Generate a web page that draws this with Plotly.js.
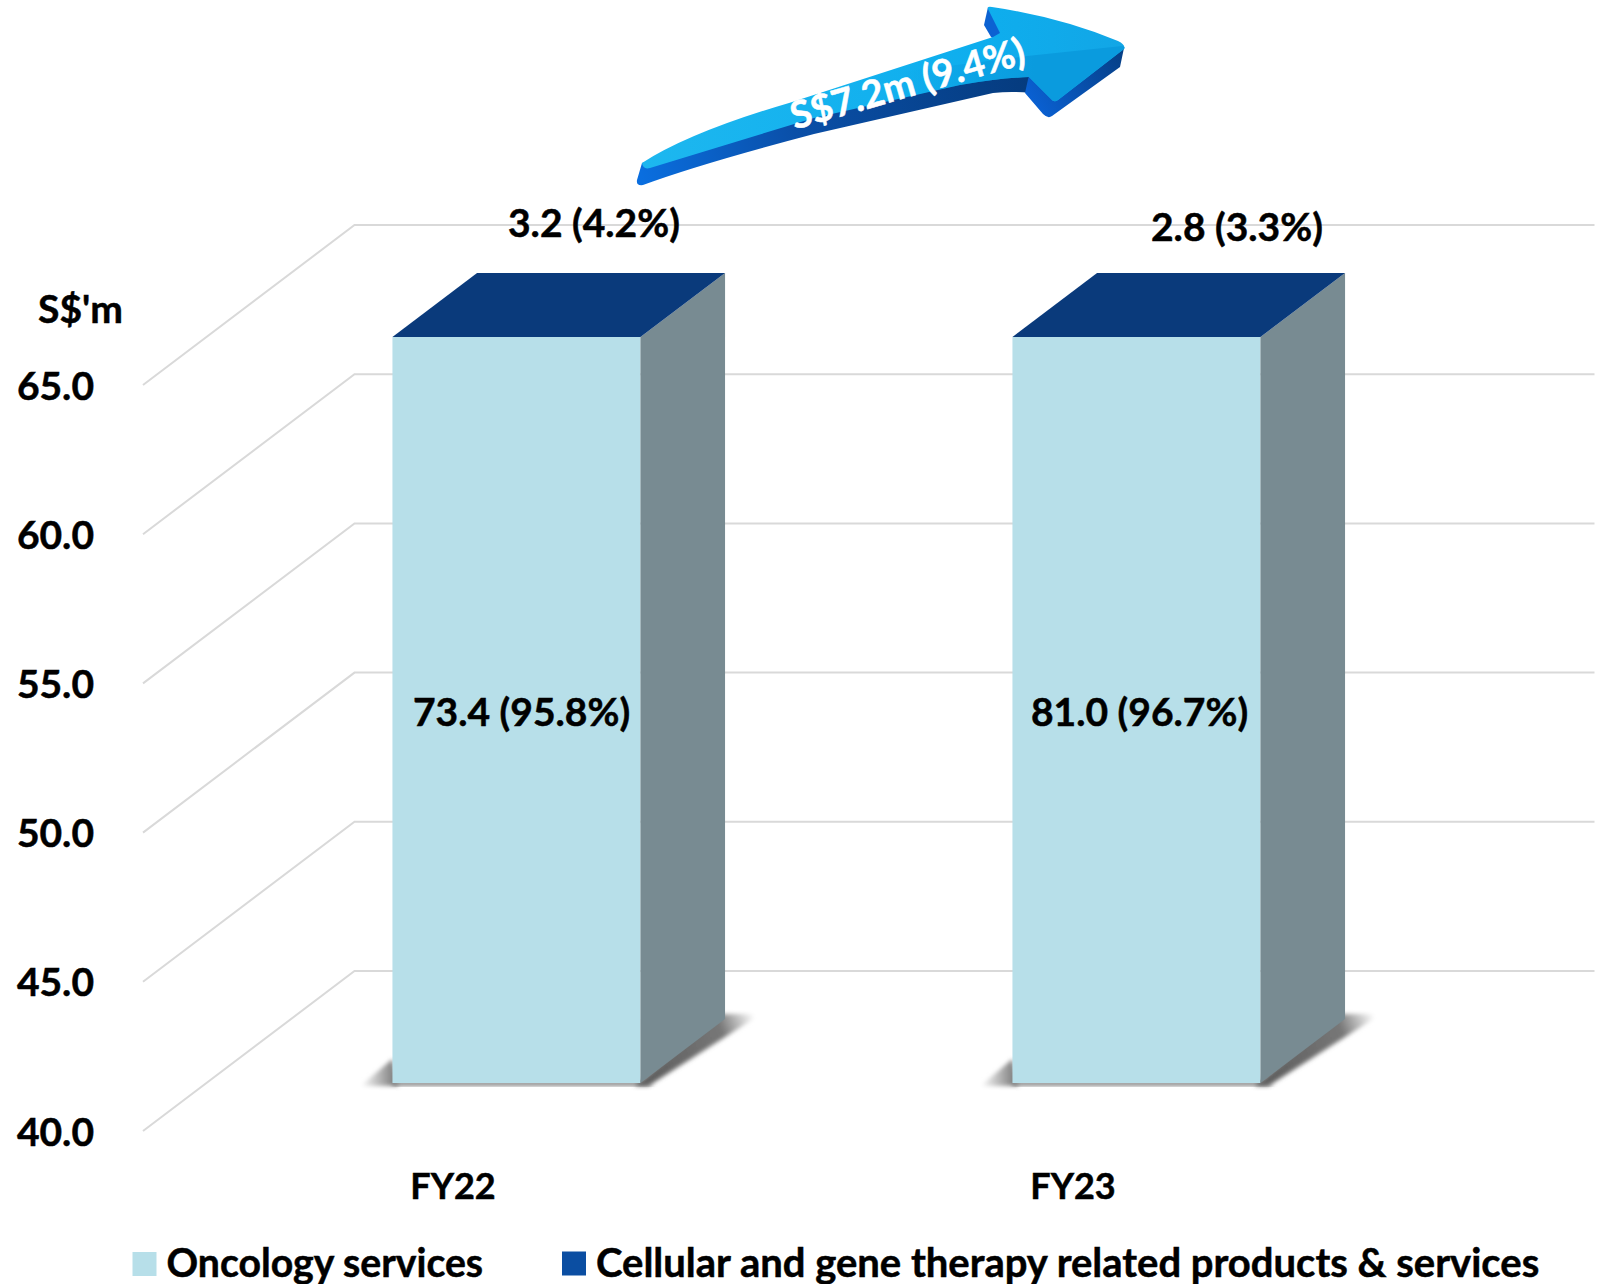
<!DOCTYPE html>
<html>
<head>
<meta charset="utf-8">
<script src="https://cdn.plot.ly/plotly-3.0.1.min.js"></script>
<style>html,body{margin:0;padding:0;background:#fff}</style>
</head>
<body>
<div id="chart" style="width:1608px;height:1284px"></div>
<script>
// Revenue by segment, S$ million
const categories = ["FY22", "FY23"];
const oncology = [73.4, 81.0];
const oncologyShare = [95.8, 96.7];
const cellular = [3.2, 2.8];
const cellularShare = [4.2, 3.3];
const axisTicks = [40, 45, 50, 55, 60, 65];
const growthLabel = "S$7.2m (9.4%)";
const unitLabel = "S$'m";
const seriesNames = ["Oncology services", "Cellular and gene therapy related products & services"];

// Pseudo-3D geometry: front floor edge, category pitch and value scale
const W = 1608, H = 1284;
const originX = 453, pitch = 620, floorY = 1131, pxPerUnit = 29.84;
const wallDx = 211.5 / pitch, wallDy = 160 / pxPerUnit;
const axisMin = 40, axisMax = 65;
const barHalf = 0.2, depthFront = 0.3, depthBack = 0.7;

const xRange = [-originX / pitch, (W - originX) / pitch];
const yRange = [axisMin - (H - floorY) / pxPerUnit, axisMin + floorY / pxPerUnit];

// Shift a front-plane position back along the floor by a depth fraction
const px = (x, d) => x + d * wallDx;
const py = (v, d) => v + d * wallDy;
const clip = v => Math.min(v, axisMax);

const INK = "#000000";
const FONT = "Lato, sans-serif";
const colors = { front: "#B7DFE9", side: "#788B92", top: "#0A3A7B", legendCell: "#0B4EA2", grid: "#D9D9D9" };

function facePolygon(points, color) {
  return {
    type: "scatter", mode: "lines", fill: "toself", fillcolor: color,
    x: points.map(p => p[0]), y: points.map(p => p[1]),
    line: { width: 0, color: color }, hoverinfo: "skip", showlegend: false
  };
}

const traces = [];
const xs = categories.map((_, i) => i);

// Clipped stack: the oncology column already runs past the axis ceiling
traces.push({
  type: "bar", name: seriesNames[0], x: xs.map(i => px(i, depthFront)),
  y: oncology.map(v => clip(v) - axisMin),
  base: xs.map(() => py(axisMin, depthFront)),
  width: barHalf * 2, marker: { color: colors.front, line: { width: 0 } }, hoverinfo: "skip",
  legend: "legend"
});
traces.push({
  type: "bar", name: seriesNames[1], x: xs.map(i => px(i, depthFront)),
  y: oncology.map((v, i) => clip(v + cellular[i]) - clip(v)),
  base: oncology.map(v => py(clip(v), depthFront)),
  width: barHalf * 2, marker: { color: colors.legendCell, line: { width: 0 } }, hoverinfo: "skip",
  legend: "legend2"
});

// Side and top faces of each column
xs.forEach(i => {
  const total = clip(oncology[i] + cellular[i]);
  const r = i + barHalf, l = i - barHalf;
  traces.push(facePolygon([
    [px(r, depthFront), py(axisMin, depthFront)],
    [px(r, depthBack), py(axisMin, depthBack)],
    [px(r, depthBack), py(total, depthBack)],
    [px(r, depthFront), py(total, depthFront)]
  ], colors.side));
  traces.push(facePolygon([
    [px(l, depthFront), py(total, depthFront)],
    [px(r, depthFront), py(total, depthFront)],
    [px(r, depthBack), py(total, depthBack)],
    [px(l, depthBack), py(total, depthBack)]
  ], colors.top));
});

// Wall gridlines: side wall diagonal, then along the back wall
const gridShapes = axisTicks.map(v => ({
  type: "path", xref: "x", yref: "y", layer: "below",
  path: `M${px(-0.5, 0)},${py(v, 0)} L${px(-0.5, 1)},${py(v, 1)} L${px(1.5, 1)},${py(v, 1)}`,
  line: { color: colors.grid, width: 2 }
}));

// Soft floor shadows and the growth arrow, as one vector backdrop
const toPxX = (x, d) => originX + pitch * x + d * 211.5;
const toPxY = d => floorY - d * 160;
function shadow(i) {
  const lf = toPxX(i - barHalf, depthFront), rf = toPxX(i + barHalf, depthFront);
  const rb = toPxX(i + barHalf, depthBack), yf = toPxY(depthFront), yb = toPxY(depthBack);
  return `<polygon filter="url(#soft)" fill="url(#shL)" points="${lf - 32},${yf + 3} ${lf},${yf - 24} ${lf + 6},${yf + 3}"/>` +
    `<polygon filter="url(#soft)" fill="#8a8a8a" points="${lf},${yf - 2} ${rf},${yf - 2} ${rf + 14},${yf + 3} ${lf},${yf + 3}"/>` +
    `<polygon filter="url(#soft)" fill="url(#shR${i})" points="${rf - 6},${yf + 3} ${rf + 8},${yf + 3} ${rb + 36},${yb - 5} ${rb - 6},${yb - 5}"/>`;
}
const backdrop = `<svg xmlns="http://www.w3.org/2000/svg" width="${W}" height="${H}" viewBox="0 0 ${W} ${H}">
<defs>
<filter id="soft" x="-20%" y="-20%" width="140%" height="140%"><feGaussianBlur stdDeviation="2.2"/></filter>
<linearGradient id="shL" x1="0" x2="1" y1="0" y2="0"><stop offset="0" stop-color="#ffffff"/><stop offset="1" stop-color="#6e6e6e"/></linearGradient>
<linearGradient id="shR0" gradientUnits="userSpaceOnUse" x1="650" y1="1075" x2="760" y2="1030"><stop offset="0" stop-color="#5f5f5f"/><stop offset="0.7" stop-color="#777"/><stop offset="1" stop-color="#ffffff"/></linearGradient>
<linearGradient id="shR1" gradientUnits="userSpaceOnUse" x1="1270" y1="1075" x2="1380" y2="1030"><stop offset="0" stop-color="#5f5f5f"/><stop offset="0.7" stop-color="#777"/><stop offset="1" stop-color="#ffffff"/></linearGradient>
<linearGradient id="aTop" x1="0" x2="1" y1="0" y2="0"><stop offset="0" stop-color="#1DB7EF"/><stop offset="0.7" stop-color="#0EAEEE"/><stop offset="1" stop-color="#12A6E6"/></linearGradient>
<linearGradient id="aUnder" gradientUnits="userSpaceOnUse" x1="640" y1="170" x2="1030" y2="85"><stop offset="0" stop-color="#0A6EDF"/><stop offset="0.4" stop-color="#0A4FA8"/><stop offset="1" stop-color="#053B7E"/></linearGradient>
<linearGradient id="aHeadSide" gradientUnits="userSpaceOnUse" x1="1030" y1="110" x2="1124" y2="55"><stop offset="0" stop-color="#0A62D6"/><stop offset="1" stop-color="#063F86"/></linearGradient>
<linearGradient id="aShade" gradientUnits="userSpaceOnUse" x1="900" y1="0" x2="1035" y2="0"><stop offset="0" stop-color="#0A9BDE" stop-opacity="0"/><stop offset="1" stop-color="#0A9BDE"/></linearGradient>
</defs>
${xs.map(shadow).join("")}
<path fill="url(#aUnder)" d="M642,163 L637,180 Q636,186 643,185 Q700,164 814,134 L993,93 Q1012,91 1030,93 L1032,70 L850,100 Z"/>
<path fill="url(#aHeadSide)" d="M1029,75 L1025,93 L1043,114 Q1048,119 1052,116 L1120,67 L1124,48 L1055,95 Z"/>
<path fill="#0C62D2" d="M988,7 L984,25 L991,37 L999,42 L1002,32 Z"/>
<path fill="url(#aTop)" d="M642,163 Q690,132 789,103 L993,37 L1000,33 L988,9 Q987,6 992,7 Q1060,17 1118,41 Q1126,45 1124,49 L1058,100 Q1054,103 1051,99 L1029,77 Q1000,78 960,85 L814,118 L650,168 Q643,170 642,163 Z"/>
<path fill="url(#aShade)" d="M900,72 L1027,56 L1122,46 Q1126,47 1124,49 L1058,100 Q1054,103 1051,99 L1029,77 Q1000,78 960,85 L900,98 Z"/>
</svg>`;

// Value labels placed beside their column
const topLabelX = [0.2274, 1.2645], topLabelY = [70.45, 70.34];
const midLabelX = [0.11, 1.108], midLabelY = 54.08;
const labelFont = { family: FONT, size: 39, color: INK, weight: 700 };
const annotations = [];
xs.forEach(i => {
  annotations.push({
    xref: "x", yref: "y", x: topLabelX[i], y: topLabelY[i], showarrow: false,
    xanchor: "center", yanchor: "middle",
    text: `${cellular[i].toFixed(1)} (${cellularShare[i].toFixed(1)}%)`, font: labelFont
  });
  annotations.push({
    xref: "x", yref: "y", x: midLabelX[i], y: midLabelY, showarrow: false,
    xanchor: "center", yanchor: "middle",
    text: `${oncology[i].toFixed(1)} (${oncologyShare[i].toFixed(1)}%)`, font: labelFont
  });
});
annotations.push({
  xref: "paper", yref: "paper", x: 80 / W, y: 1 - 308 / H, showarrow: false,
  xanchor: "center", yanchor: "middle",
  text: unitLabel, font: labelFont
});
annotations.push({
  xref: "paper", yref: "paper", x: 907 / W, y: 1 - 82 / H, showarrow: false,
  xanchor: "center", yanchor: "middle",
  text: growthLabel, textangle: -16, font: { family: FONT, size: 38, color: "#FFFFFF", weight: 700 }
});

const layout = {
  width: W, height: H, margin: { l: 0, r: 0, t: 0, b: 0, autoexpand: false },
  paper_bgcolor: "#FFFFFF", plot_bgcolor: "#FFFFFF",
  barmode: "overlay", showlegend: true,
  xaxis: {
    type: "linear", range: xRange, domain: [0, 1], fixedrange: true,
    tickmode: "array", tickvals: xs, ticktext: categories,
    showgrid: false, zeroline: false, showline: false, ticks: "",
    anchor: "free", position: (H - 1162) / H, tickfont: { family: FONT, size: 36, color: INK, weight: 700 }
  },
  yaxis: {
    type: "linear", range: yRange, domain: [0, 1], fixedrange: true,
    tickmode: "array", tickvals: axisTicks, ticktext: axisTicks.map(v => v.toFixed(1)),
    showgrid: false, zeroline: false, showline: false, ticks: "",
    anchor: "free", position: 94 / W, tickfont: labelFont, ticklabelshift: 1
  },
  legend: {
    orientation: "h", x: 126.5 / W, xanchor: "left", y: 1 - 1230 / H, yanchor: "top",
    bgcolor: "rgba(0,0,0,0)", borderwidth: 0,
    font: { family: FONT, size: 39.2, color: INK, weight: 700 }
  },
  legend2: {
    orientation: "h", x: 556 / W, xanchor: "left", y: 1 - 1229 / H, yanchor: "top",
    bgcolor: "rgba(0,0,0,0)", borderwidth: 0,
    font: { family: FONT, size: 40, color: INK, weight: 700 }
  },
  shapes: gridShapes,
  annotations: annotations,
  images: [{
    source: "data:image/svg+xml;charset=utf-8," + encodeURIComponent(backdrop),
    xref: "paper", yref: "paper", x: 0, y: 1, sizex: 1, sizey: 1,
    xanchor: "left", yanchor: "top", sizing: "stretch", layer: "below"
  }]
};

Plotly.newPlot("chart", traces, layout, { displayModeBar: false, staticPlot: true }).then(() => {
  // Enlarge the legend swatches and thicken the lettering slightly
  document.querySelectorAll(".legendpoints path").forEach(p => p.setAttribute("d", "M10,14H-14V-10H10Z"));
  document.querySelectorAll(".main-svg text").forEach(t => {
    t.style.stroke = t.style.fill;
    t.style.strokeWidth = "0.5px";
  });
});
</script>
</body>
</html>
